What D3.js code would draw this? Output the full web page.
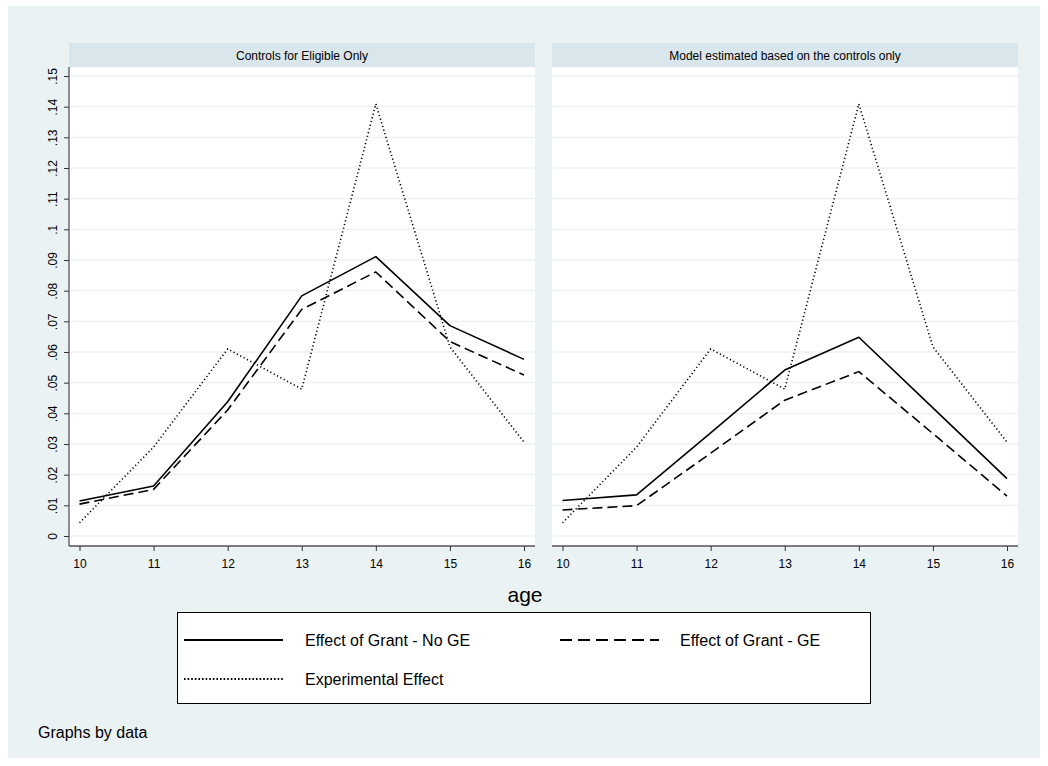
<!DOCTYPE html>
<html><head><meta charset="utf-8">
<script src="https://cdn.jsdelivr.net/npm/d3@7"></script>
<style>body{margin:0;background:#fff}svg{display:block}text{font-family:Arial,"Liberation Sans",sans-serif;fill:#000}</style>
</head><body><svg id="c" width="1048" height="766"></svg>
<script>
const ages = [10, 11, 12, 13, 14, 15, 16];
const yTicks = [0, .01, .02, .03, .04, .05, .06, .07, .08, .09, .1, .11, .12, .13, .14, .15];
const yTickLabels = ["0", ".01", ".02", ".03", ".04", ".05", ".06", ".07", ".08", ".09", ".1", ".11", ".12", ".13", ".14", ".15"];
const panelTitles = ["Controls for Eligible Only", "Model estimated based on the controls only"];
const seriesNames = ["Effect of Grant - No GE", "Effect of Grant - GE", "Experimental Effect"];
// Left panel
const leftNoGE = [0.0114, 0.0163, 0.0438, 0.0783, 0.0911, 0.0686, 0.0576];
const leftGE = [0.0104, 0.0152, 0.0411, 0.0739, 0.0861, 0.0634, 0.0525];
const leftExp = [0.0043, 0.0290, 0.0610, 0.0479, 0.1409, 0.0617, 0.0306];
// Right panel
const rightNoGE = [0.0116, 0.0134, 0.0336, 0.0541, 0.0648, 0.0418, 0.0187];
const rightGE = [0.0085, 0.0099, 0.0270, 0.0443, 0.0536, 0.0334, 0.0130];
const rightExp = [0.0043, 0.0290, 0.0610, 0.0479, 0.1409, 0.0617, 0.0306];

const panelData = [[leftNoGE, leftGE, leftExp], [rightNoGE, rightGE, rightExp]];
const styles = [
  {dash: null, width: 1.6},
  {dash: "10,5", width: 1.6},
  {dash: "1.2,2.6", width: 1.6}
];

const svg = d3.select("#c");
svg.append("rect").attr("x", 8).attr("y", 6).attr("width", 1032).attr("height", 752).attr("fill", "#eaf2f3");

const plotTop = 67, plotBottom = 546;
const panels = [{x0: 69, x1: 535}, {x0: 552, x1: 1018}];
const y = d3.scaleLinear().domain([0, 0.15]).range([536, 76]);

panels.forEach((p, i) => {
  const x = d3.scaleLinear().domain([10, 16]).range([p.x0 + 10.5, p.x1 - 11]);
  const g = svg.append("g");
  g.append("rect").attr("x", p.x0).attr("y", 43).attr("width", p.x1 - p.x0).attr("height", plotTop - 43).attr("fill", "#d9e6eb");
  g.append("text").attr("x", (p.x0 + p.x1) / 2).attr("y", 60).attr("text-anchor", "middle").attr("font-size", 12).text(panelTitles[i]);
  g.append("rect").attr("x", p.x0).attr("y", plotTop).attr("width", p.x1 - p.x0).attr("height", plotBottom - plotTop).attr("fill", "#fff");
  g.selectAll("line.grid").data(yTicks).enter().append("line")
    .attr("x1", p.x0).attr("x2", p.x1).attr("y1", d => y(d)).attr("y2", d => y(d))
    .attr("stroke", "#eaf2f3").attr("stroke-width", 1.3);
  if (i === 0) {
    const ax = g.append("g").attr("transform", `translate(${p.x0},0)`)
      .call(d3.axisLeft(y).tickValues(yTicks).tickFormat((d, k) => yTickLabels[k]).tickSize(5).tickPadding(5));
    ax.select(".domain").attr("d", `M0,${plotTop}V${plotBottom}`).attr("stroke", "#555").attr("stroke-width", 1.3);
    ax.selectAll(".tick line").attr("stroke", "#333");
    ax.selectAll(".tick text").attr("font-size", 12).attr("font-family", "Arial, 'Liberation Sans', sans-serif")
      .attr("transform", "rotate(-90)").attr("x", 0).attr("y", -12).attr("dy", "0").attr("text-anchor", "middle");
  }
  const xa = g.append("g").attr("transform", `translate(0,${plotBottom})`)
    .call(d3.axisBottom(x).tickValues(ages).tickFormat(d3.format("d")).tickSize(5).tickPadding(8));
  xa.select(".domain").attr("d", `M${p.x0},0H${p.x1}`).attr("stroke", "#555").attr("stroke-width", 1.3);
  xa.selectAll(".tick line").attr("stroke", "#333");
  xa.selectAll(".tick text").attr("font-size", 12).attr("font-family", "Arial, 'Liberation Sans', sans-serif");

  const line = d3.line().x((d, k) => x(ages[k])).y(d => y(d));
  panelData[i].forEach((vals, s) => {
    g.append("path").datum(vals).attr("d", line).attr("fill", "none").attr("stroke", "#000")
      .attr("stroke-width", styles[s].width).attr("stroke-dasharray", styles[s].dash)
      .attr("stroke-linejoin", "round");
  });
});

svg.append("text").attr("x", 525).attr("y", 602).attr("text-anchor", "middle").attr("font-size", 21).text("age");

const lg = svg.append("g");
lg.append("rect").attr("x", 177.5).attr("y", 612.5).attr("width", 693).attr("height", 91).attr("fill", "#fff").attr("stroke", "#000").attr("stroke-width", 1);
const legendItems = [
  {x: 184, y: 640, s: 0}, {x: 560, y: 640, s: 1}, {x: 184, y: 679, s: 2}
];
legendItems.forEach(it => {
  lg.append("line").attr("x1", it.x).attr("x2", it.x + 99).attr("y1", it.y).attr("y2", it.y)
    .attr("stroke", "#000").attr("stroke-width", 2.2).attr("stroke-dasharray", it.s === 1 ? "12,6" : (it.s === 2 ? "1.6,2" : null));
  lg.append("text").attr("x", it.x + (it.s === 1 ? 120 : 121)).attr("y", it.y + 6).attr("font-size", 16).text(seriesNames[it.s]);
});

svg.append("text").attr("x", 38).attr("y", 738).attr("font-size", 16).text("Graphs by data");
</script></body></html>
